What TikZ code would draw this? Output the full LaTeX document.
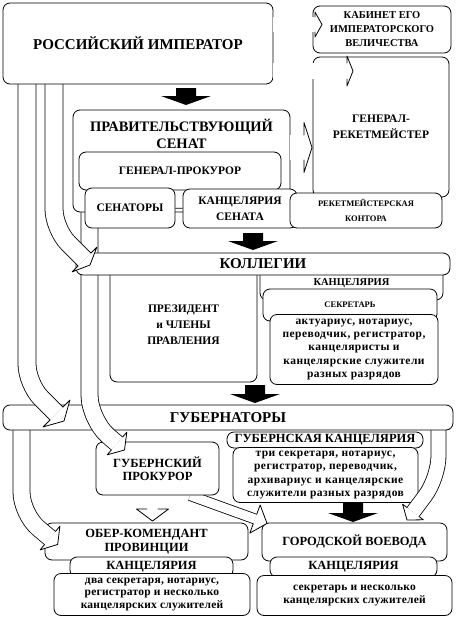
\documentclass[tikz,border=0pt]{standalone}
\usepackage{fontspec}
\setmainfont{Liberation Serif}
\usetikzlibrary{calc}
\tikzset{
    % rounded frame of every office
    box/.style = {
        draw,
        fill = white,
        line width = 0.8pt,
        rounded corners = 7pt,
        inner sep = 0pt,
        align = center
    },
    % hollow shaft of a wide arrow
    band/.style = {
        draw,
        line width = 0.8pt,
        double = white,
        double distance = #1
    },
    ftitle/.style = {font=\fontsize{15pt}{17pt}\selectfont\bfseries},
    fsenat/.style = {font=\fontsize{14.5pt}{17pt}\selectfont\bfseries},
    fhead/.style = {font=\fontsize{12.5pt}{13.5pt}\selectfont\bfseries},
    fmid/.style = {font=\fontsize{11.5pt}{16pt}\selectfont\bfseries},
    fsmall/.style = {font=\fontsize{10.5pt}{14pt}\selectfont\bfseries},
    ftiny/.style = {font=\fontsize{8.5pt}{15pt}\selectfont\bfseries},
    fbody/.style = {font=\fontsize{11.5pt}{13.4pt}\selectfont\bfseries\addfontfeatures{LetterSpace=4}},
    fbodys/.style = {font=\fontsize{11.5pt}{12.5pt}\selectfont\bfseries\addfontfeatures{LetterSpace=2}}
}
% head of a hollow arrow: base, apex, half width of head, half width of shaft
\newcommand{\bandhead}[4]{%
    \path [draw, fill=white, line width=0.8pt, line join=round, line cap=round]
        ($(#1)!#4!90:(#2)$) -- ($(#1)!#3!90:(#2)$) -- (#2)
        -- ($(#1)!#3!-90:(#2)$) -- ($(#1)!#4!-90:(#2)$);
}
% black block arrow pointing down: top, tip
\newcommand{\blockdown}[2]{%
    \fill let \p1 = (#1), \p2 = (#2) in
        (\x1-10pt,\y1) -- (\x1+10pt,\y1) -- (\x1+10pt,\y2+9pt) -- (\x1+25pt,\y2+9pt)
        -- (\x2,\y2) -- (\x1-25pt,\y2+9pt) -- (\x1-10pt,\y2+9pt) -- cycle;
}

\begin{document}
\begin{tikzpicture}[x=1pt, y=-1pt]
    \useasboundingbox (0,0) rectangle (457,619);

    % province level
    \node [box, fhead, minimum width=203pt, minimum height=37pt] (ober) at (146.5,541.5) {ОБЕР-КОМЕНДАНТ\\ПРОВИНЦИИ};
    \node [box, fhead, minimum width=163pt, minimum height=20pt] (oberkanc) at (151.5,567) {КАНЦЕЛЯРИЯ};
    \node [box, fbodys, minimum width=196pt, minimum height=42pt] (oberstaff) at (152,594.5) {два секретаря, нотариус,\\регистратор и несколько\\канцелярских служителей};
    \node [box, fhead, minimum width=185pt, minimum height=38pt] (voev) at (354.5,542) {ГОРОДСКОЙ ВОЕВОДА};
    \node [box, fhead, minimum width=167pt, minimum height=20pt] (voevkanc) at (353.5,567) {КАНЦЕЛЯРИЯ};
    \node [box, fbodys, minimum width=195pt, minimum height=40pt] (voevstaff) at (354.5,595.5) {секретарь и несколько\\канцелярских служителей};

    % gubernskij prokuror -> ober, voevoda
    \coordinate (f0) at (190,495.5);
    \coordinate (f1) at (255,519);
    \coordinate (f2) at (267,523.4);
    \draw [band=9.2pt] (f0) -- (f1);
    \bandhead{f1}{f2}{15pt}{5pt}
    \coordinate (g0) at (152.5,490);
    \coordinate (g1) at (152.5,509);
    \coordinate (g2) at (152.5,521);
    \draw [band=10.2pt] (g0) -- (g1);
    \bandhead{g1}{g2}{16pt}{5.5pt}
    \coordinate (k4top) at (353,502);
    \coordinate (k4tip) at (353,522);
    \blockdown{k4top}{k4tip}

    \node [box, fhead, minimum width=123pt, minimum height=53pt] (gubprok) at (157.5,468.5) {ГУБЕРНСКИЙ\\ПРОКУРОР};
    \node [box, fhead, minimum width=196pt, minimum height=16pt] (gubkanc) at (325,440) {ГУБЕРНСКАЯ КАНЦЕЛЯРИЯ};
    \node [box, fbody, minimum width=185pt, minimum height=55pt] (gubstaff) at (325.5,475) {три секретаря, нотариус,\\регистратор, переводчик,\\архивариус и канцелярские\\служители разных разрядов};

    % gubernatory -> ober, voevoda
    \coordinate (d0) at (21.5,425);
    \coordinate (d1) at (21.5,514);
    \coordinate (d2) at (50,538);
    \coordinate (d3) at (57.7,544.4);
    \draw [band=16.2pt, rounded corners=22pt] (d0) -- (d1) -- (d2);
    \bandhead{d2}{d3}{15.5pt}{8.5pt}
    \coordinate (e0) at (438.5,425);
    \coordinate (e1) at (438.5,478);
    \coordinate (e2) at (413,512);
    \coordinate (e3) at (407,520);
    \draw [band=14.2pt, rounded corners=22pt] (e0) -- (e1) -- (e2);
    \bandhead{e2}{e3}{13pt}{7.5pt}

    \node [box, ftitle, minimum width=450pt, minimum height=25pt] (gub) at (228,417.5) {ГУБЕРНАТОРЫ};

    % collegia
    \node [box, fmid, minimum width=147pt, minimum height=114pt] (pres) at (183.5,325) {ПРЕЗИДЕНТ\\и ЧЛЕНЫ\\ПРАВЛЕНИЯ};
    \node [box, fsmall, minimum width=183pt, minimum height=34pt] (kolkanc) at (351.5,283) {КАНЦЕЛЯРИЯ};
    \node [box, ftiny, minimum width=174pt, minimum height=32pt] (sekr) at (350,305) {СЕКРЕТАРЬ};
    \node [box, fbody, minimum width=168pt, minimum height=70pt] (kolstaff) at (354,349.5) {актуариус, нотариус,\\переводчик, регистратор,\\канцеляристы и\\канцелярские служители\\разных разрядов};
    \coordinate (k3top) at (255,385);
    \coordinate (k3tip) at (255,403);
    \blockdown{k3top}{k3tip}

    % general-prokuror -> gubernskij prokuror
    \coordinate (c0) at (89.5,200);
    \coordinate (c1) at (89.5,420);
    \coordinate (c2) at (117,443.5);
    \coordinate (c3) at (124.5,450);
    \draw [band=16.2pt, rounded corners=25pt] (c0) -- (c1) -- (c2);
    \bandhead{c2}{c3}{15pt}{8.5pt}

    \node [box, ftitle, minimum width=374pt, minimum height=22pt] (kol) at (263,264) {КОЛЛЕГИИ};

    % emperor -> gubernatory, kollegii
    \coordinate (a0) at (27,80);
    \coordinate (a1) at (27,384);
    \coordinate (a2) at (56.5,413.5);
    \coordinate (a3) at (64,421);
    \draw [band=17.2pt, rounded corners=20pt] (a0) -- (a1) -- (a2);
    \bandhead{a2}{a3}{19pt}{9pt}
    \coordinate (b0) at (54,80);
    \coordinate (b1) at (54,229);
    \coordinate (b2) at (84.5,259.5);
    \coordinate (b3) at (90,265);
    \draw [band=17.2pt, rounded corners=20pt] (b0) -- (b1) -- (b2);
    \bandhead{b2}{b3}{17.5pt}{9pt}

    % senate
    \node [box, minimum width=217pt, minimum height=102pt] (senat) at (181.5,161) {};
    \node [fsenat, align=center] (senattitle) at (181.5,133.5) {ПРАВИТЕЛЬСТВУЮЩИЙ\\СЕНАТ};
    \node [box, fmid, minimum width=202pt, minimum height=38pt] (genprok) at (180,171) {ГЕНЕРАЛ-ПРОКУРОР};
    \node [box, fmid, minimum width=90pt, minimum height=40pt] (senators) at (130,208) {СЕНАТОРЫ};
    \node [box, fmid, minimum width=114pt, minimum height=39pt] (senkanc) at (240,208.5) {КАНЦЕЛЯРИЯ\\СЕНАТА};
    \draw [line width=0.8pt] (senators) -- (senkanc);
    \node [box, fmid, minimum width=136pt, minimum height=140pt] (rek) at (381,127) {ГЕНЕРАЛ-\\РЕКЕТМЕЙСТЕР};
    \node [box, ftiny, minimum width=152pt, minimum height=35pt] (kontora) at (366,210.5) {РЕКЕТМЕЙСТЕРСКАЯ\\КОНТОРА};
    \coordinate (k2top) at (253,233);
    \coordinate (k2tip) at (253,250);
    \blockdown{k2top}{k2tip}

    % emperor
    \node [box, ftitle, minimum width=270pt, minimum height=81pt] (emp) at (138,43.5) {РОССИЙСКИЙ ИМПЕРАТОР};
    \node [box, fsmall, minimum width=138pt, minimum height=47pt] (cab) at (382,29.5) {КАБИНЕТ ЕГО\\ИМПЕРАТОРСКОГО\\ВЕЛИЧЕСТВА};
    \coordinate (k1top) at (186,88);
    \coordinate (k1tip) at (186,105);
    \blockdown{k1top}{k1tip}

    % emperor -> cabinet, rek, senate -> rek
    \coordinate (h0) at (272.5,24.5);
    \coordinate (h1) at (315,24.5);
    \coordinate (h2) at (322,24.5);
    \draw [band=14.2pt] (h0) -- (h1);
    \bandhead{h1}{h2}{12.5pt}{7.5pt}
    \coordinate (i0) at (272.5,71);
    \coordinate (i1) at (347,71);
    \coordinate (i2) at (353,71);
    \draw [band=15.2pt] (i0) -- (i1);
    \bandhead{i1}{i2}{15pt}{8pt}
    \coordinate (j0) at (289.5,147.5);
    \coordinate (j1) at (304,147.5);
    \coordinate (j2) at (312,147.5);
    \draw [band=24.2pt] (j0) -- (j1);
    \bandhead{j1}{j2}{25pt}{12.5pt}
\end{tikzpicture}
\end{document}
